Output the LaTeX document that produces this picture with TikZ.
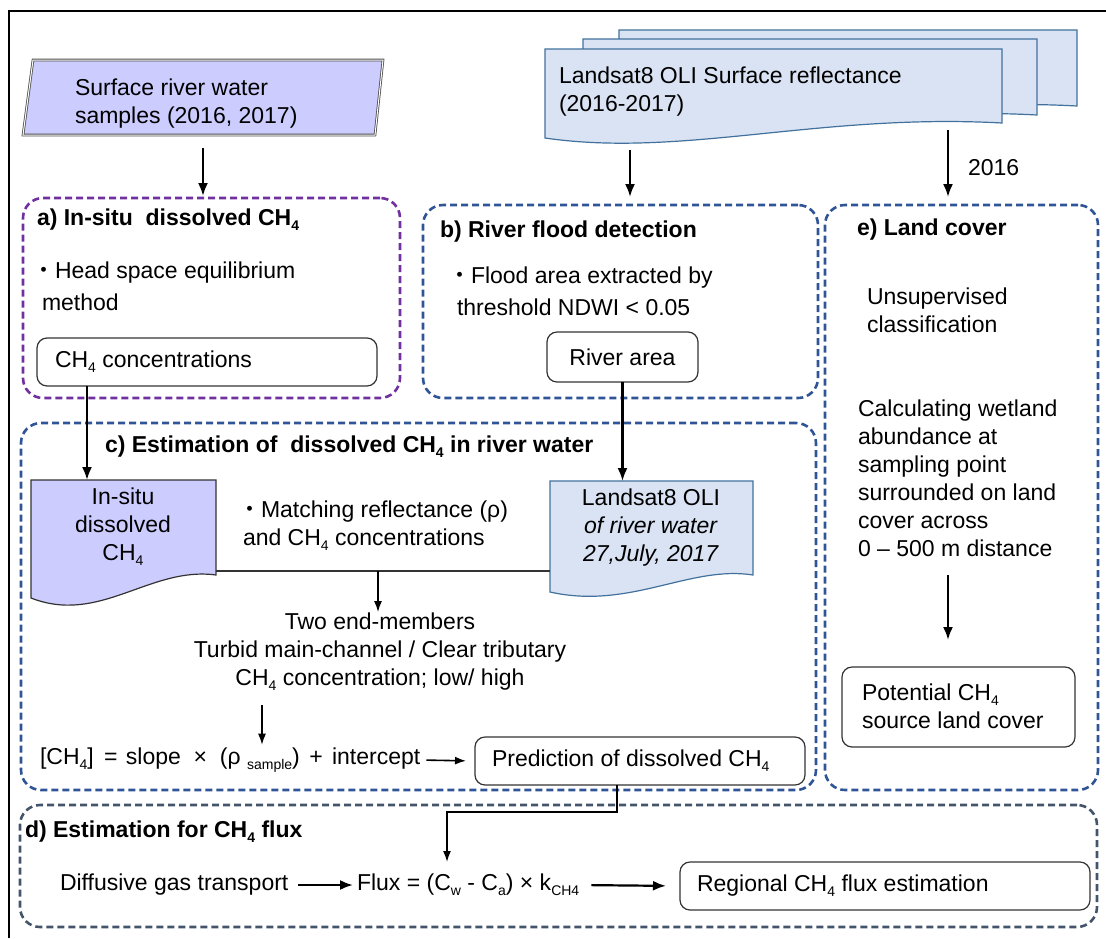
\documentclass[tikz,border=0pt]{standalone}
\usepackage{fontspec}
\setmainfont{Liberation Sans}
\newfontfamily\cjkfont{Noto Sans CJK JP}
\usetikzlibrary{arrows.meta}
\definecolor{dblue}{HTML}{2F5597}
\definecolor{dgrey}{HTML}{44546A}
\definecolor{purp}{HTML}{7030A0}
\definecolor{lav}{HTML}{CCCCFF}
\definecolor{lblue}{HTML}{DAE3F3}
\definecolor{docblue}{HTML}{41719C}
\newcommand{\mysub}[1]{\raisebox{-0.22em}{\fontsize{14}{14}\selectfont #1}}
\newcommand{\chq}{CH\mysub{4}}
\newcommand{\bul}{{\cjkfont ・}}
\begin{document}
\begin{tikzpicture}[x=1pt,y=-1pt,
  every node/.style={font=\fontsize{23}{28}\selectfont, inner sep=0pt, outer sep=0pt},
  txt/.style={anchor=west, align=left},
  ttl/.style={anchor=west, font=\fontsize{23}{28}\selectfont\bfseries},
  secbox/.style={draw=#1, line width=2.6pt, dash pattern=on 7pt off 4pt, rounded corners=20pt, anchor=north west},
  innerbox/.style={draw=black!80, line width=1.2pt, rounded corners=10pt, anchor=north west, fill=white},
  docline/.style={draw=docblue, fill=lblue, line width=1.2pt},
  arr/.style={-{Latex[length=13pt,width=10pt]}, line width=2.2pt},
  tarr/.style={-{Latex[length=11pt,width=8pt]}, line width=1.3pt}]
\useasboundingbox (0,0) rectangle (1106,938);
\draw[line width=1.5pt] (9,938) -- (9,11) -- (1106,11);

% input: river water samples
\draw[fill=lav, draw=black!70, double=white, double distance=1pt, line width=0.8pt]
  (33,60) -- (383,60) -- (375,135) -- (23,135) -- cycle;
\node[txt] (srw) at (75,104) {Surface river water\\samples (2016, 2017)};
\coordinate (srwb) at (203,148);

% input: Landsat stack
\filldraw[docline] (619,30) -- (1077,30) -- (1077,106) .. controls (894,96) and (757,141) .. (619,121) -- cycle;
\filldraw[docline] (583,39) -- (1037,39) -- (1037,115) .. controls (855,105) and (719,150) .. (583,130) -- cycle;
\filldraw[docline] (545,49) -- (1002,49) -- (1002,123) .. controls (819,113) and (682,158) .. (545,138) -- cycle;
\node[txt] (ls) at (559,92) {Landsat8 OLI Surface reflectance\\(2016-2017)};
\coordinate (lsb1) at (630,150);
\coordinate (lsb2) at (948,130);
\node[anchor=west] (y2016) at (968,168) {2016};

% sections
\node[secbox=purp, minimum width=377pt, minimum height=200pt] (boxa) at (23,198) {};
\node[secbox=dblue, minimum width=395pt, minimum height=193pt] (boxb) at (423,205) {};
\node[secbox=dblue, minimum width=273pt, minimum height=585pt] (boxe) at (825,205) {};
\node[secbox=dblue, minimum width=795pt, minimum height=367pt] (boxc) at (21,423) {};
\node[secbox=dgrey, minimum width=1077pt, minimum height=122pt] (boxd) at (20,805) {};

\draw[arr, shorten >=2pt] (srwb) -- (srwb |- boxa.north);
\draw[arr, shorten >=8pt] (lsb1) -- (lsb1 |- boxb.north);
\draw[arr, shorten >=8pt] (lsb2) -- (lsb2 |- boxe.north);

% a)
\node[ttl] (ta) at (37,220) {a) In-situ\ \ dissolved \chq};
\node[txt] (ha) at (32,273) {\bul Head space equilibrium};
\node[txt] (hb) at (42,302) {method};
\node[innerbox, minimum width=340pt, minimum height=48pt] (conc) at (37,338) {};
\node[txt] (conct) at (55,362) {\chq{} concentrations};

% b)
\node[ttl] (tb) at (440,232) {b) River flood detection};
\node[txt] (fa) at (448,278) {\bul Flood area extracted by};
\node[txt] (fb) at (457,307) {threshold NDWI < 0.05};
\node[innerbox, minimum width=151pt, minimum height=50pt] (river) at (547,332) {River area};

% e)
\node[ttl] (te) at (857,230) {e) Land cover};
\node[txt] (uc) at (867,310) {Unsupervised\\classification};
\node[txt] (cw) at (858,478) {Calculating wetland\\abundance at\\sampling point\\surrounded on land\\cover across\\0 – 500 m distance};
\coordinate (ea) at (948,575);
\node[innerbox, minimum width=233pt, minimum height=80pt] (pot) at (842,667) {};
\node[txt] (pott) at (862,706) {Potential \chq\\source land cover};
\draw[arr] (ea) -- (ea |- pot.north) [shorten >=27pt];

% c)
\node[ttl] (tc) at (105,447) {c) Estimation of\ \ dissolved \chq{} in river water};
\filldraw[draw=black!80, fill=lav, line width=1.2pt] (31,480) -- (216,480) -- (216,575) .. controls (150,566) and (100,625) .. (31,598) -- cycle;
\node[align=center] (insitu) at (123,527) {In-situ\\dissolved\\\chq};
\coordinate (istop) at (87,480);
\coordinate (isr) at (216,571);
\draw[arr] (conc.south -| istop) -- (istop);

\filldraw[docline] (550,481) -- (753,481) -- (753,575) .. controls (690,565) and (630,610) .. (550,592) -- cycle;
\node[align=center] (lsc) at (651,528) {Landsat8 OLI\\\textit{of river water}\\\textit{27,July, 2017}};
\coordinate (lctop) at (622,481);
\coordinate (lcl) at (550,571);
\draw[arr] (river.south) -- (river.south |- lctop);

\node[txt] (ma) at (238,512) {\bul Matching reflectance (ρ)};
\node[txt] (mb) at (243,540) {and \chq{} concentrations};
\draw[line width=1.2pt, draw=black!80] (isr) -- (lcl);
\coordinate (mid) at (378,571);
\node[align=center] (two) at (380,652) {Two end-members\\Turbid main-channel / Clear tributary\\\chq{} concentration; low/ high};
\draw[tarr] (mid) -- (378,612);
\coordinate (eqa) at (262,705);
\node[txt] (eq) at (40,760) {[\chq]\hspace{4pt} = \hspace{2pt}slope \ \texttimes\ \ (ρ \mysub{sample})\hspace{3pt} + \hspace{3pt}intercept};
\draw[tarr] (eqa) -- (eqa |- eq.north) [shorten >=3pt];
\node[innerbox, minimum width=330pt, minimum height=48pt] (pred) at (475,737) {};
\node[txt] (predt) at (492,761) {Prediction of dissolved \chq};
\draw[tarr, line width=1.6pt] (eq.east) -- (pred.west) [shorten <=6pt, shorten >=9pt];

% d)
\node[ttl] (td) at (25,832) {d) Estimation for \chq{} flux};
\node[txt] (dgt) at (60,885) {Diffusive gas transport};
\node[txt] (flux) at (357,885) {Flux = (C\mysub{w} - C\mysub{a}) \texttimes{} k\mysub{CH4}};
\node[innerbox, minimum width=410pt, minimum height=48pt] (reg) at (680,862) {};
\node[txt] (regt) at (697,886) {Regional \chq{} flux estimation};
\draw[arr] (dgt.east) -- (flux.west) [shorten <=10pt, shorten >=4pt];
\draw[arr] (flux.east) -- (reg.west) [shorten <=12pt, shorten >=14pt];
\coordinate (k1) at (617,812);
\coordinate (k2) at (447,812);
\coordinate (k3) at (447,862);
\draw[tarr, line width=1.6pt] (pred.south -| k1) -- (k1) -- (k2) -- (k3);
\end{tikzpicture}
\end{document}
